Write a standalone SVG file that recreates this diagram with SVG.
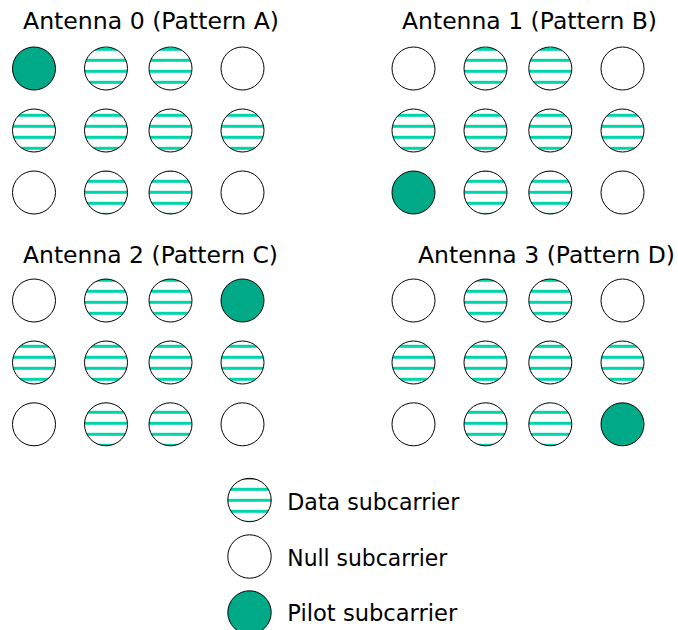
<svg xmlns="http://www.w3.org/2000/svg" width="678" height="630" viewBox="0 0 678 630">
<style>
.t{font-family:"DejaVu Sans","Liberation Sans",sans-serif;font-size:23px;fill:#000}
.n{fill:#fff;stroke:#000;stroke-width:1}
.d{fill:url(#stripes);stroke:#000;stroke-width:1}
.p{fill:#00AA88;stroke:#000;stroke-width:1}
</style>
<defs>
<pattern id="stripes" patternUnits="userSpaceOnUse" x="0" y="47.8" width="678" height="11">
<rect width="678" height="11" fill="#fff"/>
<rect width="678" height="3" fill="#00D4AA"/>
</pattern>
</defs>
<rect width="678" height="630" fill="#fff"/>

<g id="antenna0">
<text class="t" x="23" y="29" textLength="256" lengthAdjust="spacingAndGlyphs">Antenna 0 (Pattern A)</text>
<circle class="p" cx="34" cy="68.5" r="21.5"/>
<circle class="d" cx="106" cy="68.5" r="21.5"/>
<circle class="d" cx="170.5" cy="68.5" r="21.5"/>
<circle class="n" cx="242.5" cy="68.5" r="21.5"/>
<circle class="d" cx="34" cy="130.5" r="21.5"/>
<circle class="d" cx="106" cy="130.5" r="21.5"/>
<circle class="d" cx="170.5" cy="130.5" r="21.5"/>
<circle class="d" cx="242.5" cy="130.5" r="21.5"/>
<circle class="n" cx="34" cy="192.5" r="21.5"/>
<circle class="d" cx="106" cy="192.5" r="21.5"/>
<circle class="d" cx="170.5" cy="192.5" r="21.5"/>
<circle class="n" cx="242.5" cy="192.5" r="21.5"/>
</g>

<g id="antenna1">
<text class="t" x="402" y="29" textLength="255" lengthAdjust="spacingAndGlyphs">Antenna 1 (Pattern B)</text>
<circle class="n" cx="413.5" cy="68.5" r="21.5"/>
<circle class="d" cx="485.5" cy="68.5" r="21.5"/>
<circle class="d" cx="550.3" cy="68.5" r="21.5"/>
<circle class="n" cx="622.5" cy="68.5" r="21.5"/>
<circle class="d" cx="413.5" cy="130.5" r="21.5"/>
<circle class="d" cx="485.5" cy="130.5" r="21.5"/>
<circle class="d" cx="550.3" cy="130.5" r="21.5"/>
<circle class="d" cx="622.5" cy="130.5" r="21.5"/>
<circle class="p" cx="413.5" cy="192.5" r="21.5"/>
<circle class="d" cx="485.5" cy="192.5" r="21.5"/>
<circle class="d" cx="550.3" cy="192.5" r="21.5"/>
<circle class="n" cx="622.5" cy="192.5" r="21.5"/>
</g>

<g id="antenna2">
<text class="t" x="23" y="262.5" textLength="255" lengthAdjust="spacingAndGlyphs">Antenna 2 (Pattern C)</text>
<circle class="n" cx="34" cy="300.5" r="21.5"/>
<circle class="d" cx="106" cy="300.5" r="21.5"/>
<circle class="d" cx="170.5" cy="300.5" r="21.5"/>
<circle class="p" cx="242.5" cy="300.5" r="21.5"/>
<circle class="d" cx="34" cy="362.5" r="21.5"/>
<circle class="d" cx="106" cy="362.5" r="21.5"/>
<circle class="d" cx="170.5" cy="362.5" r="21.5"/>
<circle class="d" cx="242.5" cy="362.5" r="21.5"/>
<circle class="n" cx="34" cy="424.3" r="21.5"/>
<circle class="d" cx="106" cy="424.3" r="21.5"/>
<circle class="d" cx="170.5" cy="424.3" r="21.5"/>
<circle class="n" cx="242.5" cy="424.3" r="21.5"/>
</g>

<g id="antenna3">
<text class="t" x="418" y="262.5" textLength="257" lengthAdjust="spacingAndGlyphs">Antenna 3 (Pattern D)</text>
<circle class="n" cx="413.5" cy="300.5" r="21.5"/>
<circle class="d" cx="485.5" cy="300.5" r="21.5"/>
<circle class="d" cx="550.3" cy="300.5" r="21.5"/>
<circle class="n" cx="622.5" cy="300.5" r="21.5"/>
<circle class="d" cx="413.5" cy="362.5" r="21.5"/>
<circle class="d" cx="485.5" cy="362.5" r="21.5"/>
<circle class="d" cx="550.3" cy="362.5" r="21.5"/>
<circle class="d" cx="622.5" cy="362.5" r="21.5"/>
<circle class="n" cx="413.5" cy="424.3" r="21.5"/>
<circle class="d" cx="485.5" cy="424.3" r="21.5"/>
<circle class="d" cx="550.3" cy="424.3" r="21.5"/>
<circle class="p" cx="622.5" cy="424.3" r="21.5"/>
</g>

<g id="legend-data">
<circle class="d" cx="249.5" cy="500" r="21.7"/>
<text class="t" x="287.3" y="510" textLength="172" lengthAdjust="spacingAndGlyphs">Data subcarrier</text>
</g>
<g id="legend-null">
<circle class="n" cx="249.5" cy="556.5" r="21.7"/>
<text class="t" x="287.3" y="565.5" textLength="160" lengthAdjust="spacingAndGlyphs">Null subcarrier</text>
</g>
<g id="legend-pilot">
<circle class="p" cx="249.5" cy="612.5" r="21.7"/>
<text class="t" x="287.3" y="621" textLength="170" lengthAdjust="spacingAndGlyphs">Pilot subcarrier</text>
</g>
<g id="connectors"/>
</svg>
